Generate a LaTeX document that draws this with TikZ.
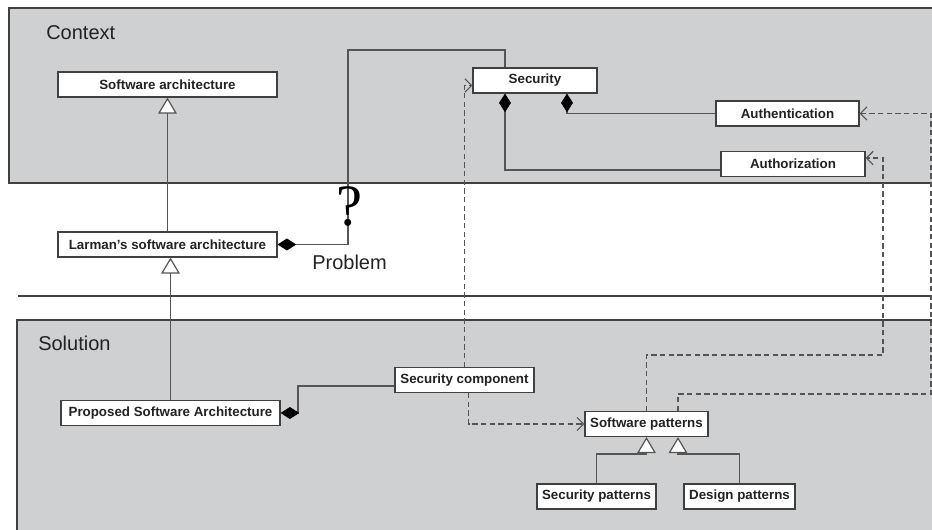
\documentclass[tikz,border=0pt]{standalone}
\usepackage{fontspec}
\setmainfont{Liberation Sans}
\newfontfamily\qfont{Liberation Serif}
\usetikzlibrary{arrows.meta,calc}

\definecolor{panel}{HTML}{CFD0D2}
\definecolor{edge}{HTML}{404040}
\definecolor{wire}{HTML}{555555}
\definecolor{ink}{HTML}{222222}

\tikzset{
  classbox/.style={draw=edge, fill=white, line width=1.1pt, inner sep=0pt,
    text=ink, font=\fontsize{10}{12}\selectfont\bfseries, minimum height=18.5pt},
  region/.style={draw=edge, fill=panel, line width=1pt},
  label/.style={text=ink, font=\fontsize{15}{18}\selectfont, inner sep=0pt},
  wireline/.style={draw=wire, line width=0.9pt},
  gen/.style={wireline, -{Triangle[length=12pt,width=14pt,fill=white,line width=0.9pt]}},
  comp/.style={wireline, {Diamond[length=14pt,width=9pt,color=black,fill=black]}-},
  dep/.style={wireline, dash pattern=on 4pt off 2.5pt,
    -{Straight Barb[length=5pt,width=10pt,line width=0.8pt]}},
}

\begin{document}
\begin{tikzpicture}[x=0.75pt,y=-0.75pt]
\useasboundingbox (0,0) rectangle (932,529);
\clip (0,0) rectangle (932,529);

% regions: context, problem band, solution
\draw[region] (9,8) rectangle (945,183);
\draw[draw=edge, line width=1pt] (18,296) -- (945,296);
\draw[region] (17,320) rectangle (945,545);

\node[label, anchor=base west] (ctx) at (46,39) {Context};
\node[label, anchor=base west] (sol) at (38,350) {Solution};
\node[label, anchor=base west] (prob) at (312,269) {Problem};

% classes
\node[classbox, minimum width=164pt] (swarch) at (167.5,84.5) {Software architecture};
\node[classbox, minimum width=164pt] (larman) at (167.5,244.5) {Larman's software architecture};
\node[classbox, minimum width=164pt] (proposed) at (170.5,413) {Proposed Software Architecture};
\node[classbox, minimum width=104pt] (seccomp) at (464.5,380) {Security component};
\node[classbox, minimum width=93pt] (security) at (535,80.5) {Security};
\node[classbox, minimum width=107pt] (authn) at (787.5,113.5) {Authentication};
\node[classbox, minimum width=108pt] (authz) at (793,164) {Authorization};
\node[classbox, minimum width=92pt] (swpat) at (646.5,424) {Software patterns};
\node[classbox, minimum width=89pt] (secpat) at (596.5,496.5) {Security patterns};
\node[classbox, minimum width=83pt] (despat) at (739.5,496.5) {Design patterns};

% generalizations
\draw[gen] (larman.north) -- (swarch.south);
\draw[gen] (proposed.north) -- (proposed.north |- larman.south);
\draw[gen] (secpat.north) |- ($(swpat.south)+(0,17)$) -- (swpat.south);
\draw[gen] (despat.north) |- ($(swpat.south)+(31.5,17)$) -- ($(swpat.south)+(31.5,0)$);

% compositions
\coordinate (qtop) at (348,50);
\draw[comp] (larman.east) -| (qtop) -| ($(security.north)+(-30,0)$);
\node[inner sep=0pt, anchor=base, text=black, font=\qfont\fontsize{44}{44}\selectfont] (qmark) at (350,225) {?};
\draw[comp] ($(security.south)+(-30,0)$) |- ($(authz.west)+(0,6)$);
\draw[comp] ($(security.south)+(32,0)$) |- (authn.west);
\coordinate (pk) at (298,386);
\draw[comp] (proposed.east) -| (pk) -- ($(seccomp.west)+(0,6)$);

% dependencies
\draw[dep] (seccomp.north) |- ($(security.west)+(0,5)$);
\draw[dep] ($(seccomp.south)+(4,0)$) |- (swpat.west);
\coordinate (za) at (883,355);
\coordinate (zb) at (883,158);
\draw[dep] (swpat.north) |- (za) -- (zb) -- (authz.east |- zb);
\coordinate (na) at (931,394);
\draw[dep] ($(swpat.north)+(31.5,0)$) |- (na) |- (authn.east);
\end{tikzpicture}
\end{document}
